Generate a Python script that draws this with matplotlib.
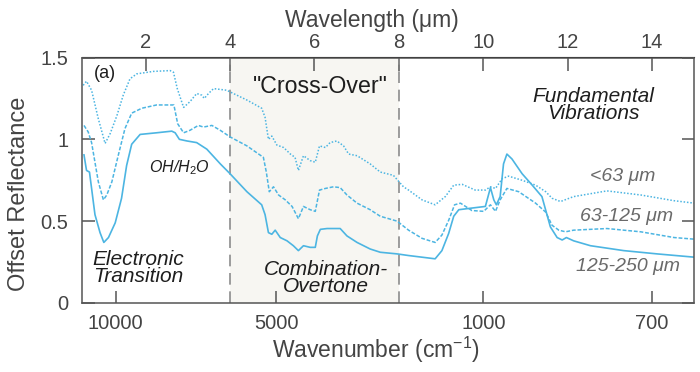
import matplotlib
matplotlib.use("Agg")
from matplotlib import pyplot as plt

plt.rcParams['font.family'] = ['Liberation Sans', 'DejaVu Sans']
plt.rcParams['mathtext.fontset'] = 'custom'
plt.rcParams['mathtext.rm'] = 'Liberation Sans'
plt.rcParams['mathtext.it'] = 'Liberation Sans:italic'

# wavelength (um) / offset reflectance
wl_fine = [0.54, 0.60, 0.67, 0.80, 0.92, 1.01, 1.12, 1.28, 1.43, 1.55, 1.67, 1.87, 2.26, 2.62,
           2.70, 2.80, 2.98, 3.21, 3.45, 3.77, 4.00, 4.40, 4.75, 4.83, 4.91, 4.99, 5.07, 5.19,
           5.35, 5.50, 5.62, 5.74, 5.90, 6.02, 6.07, 6.14, 6.30, 6.61, 6.77, 7.01, 7.32, 7.56,
           7.96, 8.23, 8.86, 9.02, 9.18, 9.30, 9.42, 9.73, 10.05, 10.17, 10.25, 10.31, 10.40,
           10.48, 10.56, 10.68, 10.92, 11.16, 11.39, 11.59, 11.75, 11.87, 11.97, 12.14, 12.54,
           13.33, 14.12, 15.0]
refl_fine = [0.905, 0.81, 0.80, 0.54, 0.43, 0.37, 0.40, 0.49, 0.64, 0.84, 0.97, 1.03, 1.04, 1.05,
             1.04, 1.00, 0.99, 0.98, 0.94, 0.85, 0.79, 0.68, 0.60, 0.54, 0.43, 0.42, 0.445, 0.40,
             0.38, 0.35, 0.32, 0.35, 0.34, 0.34, 0.41, 0.45, 0.455, 0.455, 0.41, 0.37, 0.33, 0.31,
             0.30, 0.29, 0.27, 0.32, 0.425, 0.53, 0.57, 0.58, 0.59, 0.705, 0.63, 0.60, 0.65,
             0.85, 0.91, 0.88, 0.79, 0.72, 0.65, 0.465, 0.40, 0.385, 0.40, 0.38, 0.35,
             0.32, 0.30, 0.28]

wl_mid = [0.54, 0.64, 0.72, 0.88, 1.00, 1.08, 1.20, 1.35, 1.51, 1.67, 1.91, 2.26, 2.60, 2.67,
          2.76, 2.90, 3.05, 3.25, 3.37, 3.57, 3.77, 4.00, 4.40, 4.79, 4.86, 4.93, 5.03, 5.15,
          5.31, 5.47, 5.62, 5.74, 5.90, 6.02, 6.12, 6.26, 6.45, 6.61, 6.77, 7.01, 7.32, 7.56,
          7.96, 8.23, 8.55, 8.86, 9.02, 9.18, 9.32, 9.46, 9.73, 10.01, 10.17, 10.29, 10.40,
          10.56, 10.84, 11.24, 11.48, 11.63, 11.79, 11.95, 12.14, 12.93, 13.73, 14.52, 15.0]
refl_mid = [1.085, 1.045, 0.98, 0.74, 0.63, 0.66, 0.74, 0.90, 1.065, 1.16, 1.19, 1.21, 1.21, 1.21,
            1.095, 1.04, 1.055, 1.085, 1.075, 1.085, 1.055, 1.015, 0.96, 0.89, 0.80, 0.68, 0.71, 0.66,
            0.63, 0.59, 0.515, 0.59, 0.57, 0.56, 0.69, 0.70, 0.71, 0.705, 0.66, 0.61, 0.57, 0.53,
            0.50, 0.445, 0.395, 0.37, 0.415, 0.505, 0.60, 0.61, 0.565, 0.56, 0.60, 0.56, 0.63,
            0.70, 0.68, 0.61, 0.555, 0.475, 0.445, 0.435, 0.445, 0.455, 0.435, 0.40, 0.39]

wl_coarse = [0.52, 0.60, 0.72, 0.88, 1.04, 1.16, 1.32, 1.47, 1.63, 1.79, 2.18, 2.58, 2.66, 2.75,
             2.90, 3.05, 3.21, 3.33, 3.39, 3.49, 3.61, 3.92, 4.00, 4.40, 4.75, 4.83, 4.91, 4.99,
             5.11, 5.27, 5.43, 5.54, 5.62, 5.74, 5.90, 6.02, 6.12, 6.26, 6.37, 6.53, 6.69, 6.81,
             7.01, 7.32, 7.56, 7.87, 8.11, 8.23, 8.55, 8.86, 9.10, 9.30, 9.50, 9.81, 10.05, 10.17,
             10.29, 10.45, 10.60, 10.92, 11.24, 11.48, 11.63, 11.83, 12.14, 12.93, 13.73, 14.52, 15.0]
refl_coarse = [1.33, 1.355, 1.30, 1.125, 0.975, 1.035, 1.145, 1.27, 1.37, 1.40, 1.415, 1.42, 1.41, 1.31,
               1.195, 1.23, 1.28, 1.27, 1.25, 1.28, 1.31, 1.30, 1.29, 1.24, 1.19, 1.135, 1.00, 1.02,
               0.965, 0.95, 0.91, 0.89, 0.81, 0.90, 0.87, 0.86, 0.96, 0.95, 0.98, 0.99, 0.96, 0.91,
               0.90, 0.85, 0.80, 0.78, 0.71, 0.69, 0.63, 0.60, 0.65, 0.72, 0.725, 0.69, 0.69, 0.71,
               0.70, 0.76, 0.775, 0.75, 0.72, 0.68, 0.64, 0.62, 0.65, 0.685, 0.66, 0.625, 0.61]

top_ticks = [2, 4, 6, 8, 10, 12, 14]
# bottom labels sit at these wavelength positions in the original figure
bottom_pos = [1.29, 5.09, 10.0, 14.0]
bottom_labels = ['10000', '5000', '1000', '700']

blue = '#4cb5e2'
grey = '#444444'
ink = '#1e1e1e'

fig = plt.figure(figsize=(7, 3.72), dpi=100)
ax = fig.add_axes([82.3 / 700, 1 - 303 / 372, 612 / 700, 245.5 / 372])

ax.axvspan(4, 8, color='#f7f6f2', lw=0, zorder=0)
for xv in (4, 8):
    ax.axvline(xv, color='#8c8c8c', lw=1.2, dashes=(7, 4), zorder=1)

ax.plot(wl_coarse, refl_coarse, color=blue, lw=1.1, ls=(0, (1, 1.2)), zorder=3)
ax.plot(wl_mid, refl_mid, color=blue, lw=1.1, ls=(0, (2.5, 1.2)), zorder=3)
ax.plot(wl_fine, refl_fine, color=blue, lw=1.2, zorder=3)

ax.set_xlim(0.5, 15)
ax.set_ylim(0, 1.5)
ax.set_yticks([0, 0.5, 1, 1.5])
ax.set_yticklabels(['0', '0.5', '1', '1.5'])
ax.set_xticks(bottom_pos)
ax.set_xticklabels(bottom_labels)
ax.tick_params(axis='x', direction='in', length=9, width=1.1, color='#555555',
               labelsize=14.5, labelcolor=grey, pad=8)
ax.tick_params(axis='y', direction='in', length=9, width=1.1, color='#555555',
               labelsize=14.5, labelcolor=grey, pad=10, right=True)
for s in ax.spines.values():
    s.set_color('#555555')
    s.set_linewidth(1.1)
    s.set_zorder(5)

sec = ax.secondary_xaxis('top')
sec.set_xticks(top_ticks)
sec.tick_params(direction='in', length=10, width=1.1, color='#555555',
                labelsize=14.5, labelcolor=grey, pad=4)

fig.text(372 / 700, 1 - 20 / 372, 'Wavelength (μm)', fontsize=16.5, color=grey,
         ha='center', va='center')
fig.text(376 / 700, 1 - 350 / 372, 'Wavenumber (cm$^{-1}$)', fontsize=16.5, color=grey,
         ha='center', va='center')
fig.text(19 / 700, 1 - 194 / 372, 'Offset Reflectance', fontsize=17, color=grey,
         ha='center', va='center', rotation=90)

ax.text(0.78, 1.40, '(a)', fontsize=13, color=ink, ha='left', va='center')
ax.text(6.13, 1.32, '"Cross-Over"', fontsize=16.7, color=ink, ha='center', va='center')
ax.text(2.79, 0.83, 'OH/H$_2$O', fontsize=11.5, style='italic', color=ink,
        ha='center', va='center')
ax.text(1.83, 0.216, 'Electronic\nTransition', fontsize=15, style='italic', color=ink,
        ha='center', va='center', linespacing=0.85)
ax.text(6.27, 0.155, 'Combination-\nOvertone', fontsize=15, style='italic', color=ink,
        ha='center', va='center', linespacing=0.85)
ax.text(12.61, 1.21, 'Fundamental\nVibrations', fontsize=15, style='italic', color=ink,
        ha='center', va='center', linespacing=0.85)
ax.text(13.3, 0.774, '<63 μm', fontsize=14, style='italic', color='#6a6a6a', ha='center', va='center')
ax.text(13.39, 0.53, '63-125 μm', fontsize=14, style='italic', color='#6a6a6a', ha='center', va='center')
ax.text(13.44, 0.22, '125-250 μm', fontsize=14, style='italic', color='#6a6a6a', ha='center', va='center')

fig.savefig('out.png', dpi=100)
